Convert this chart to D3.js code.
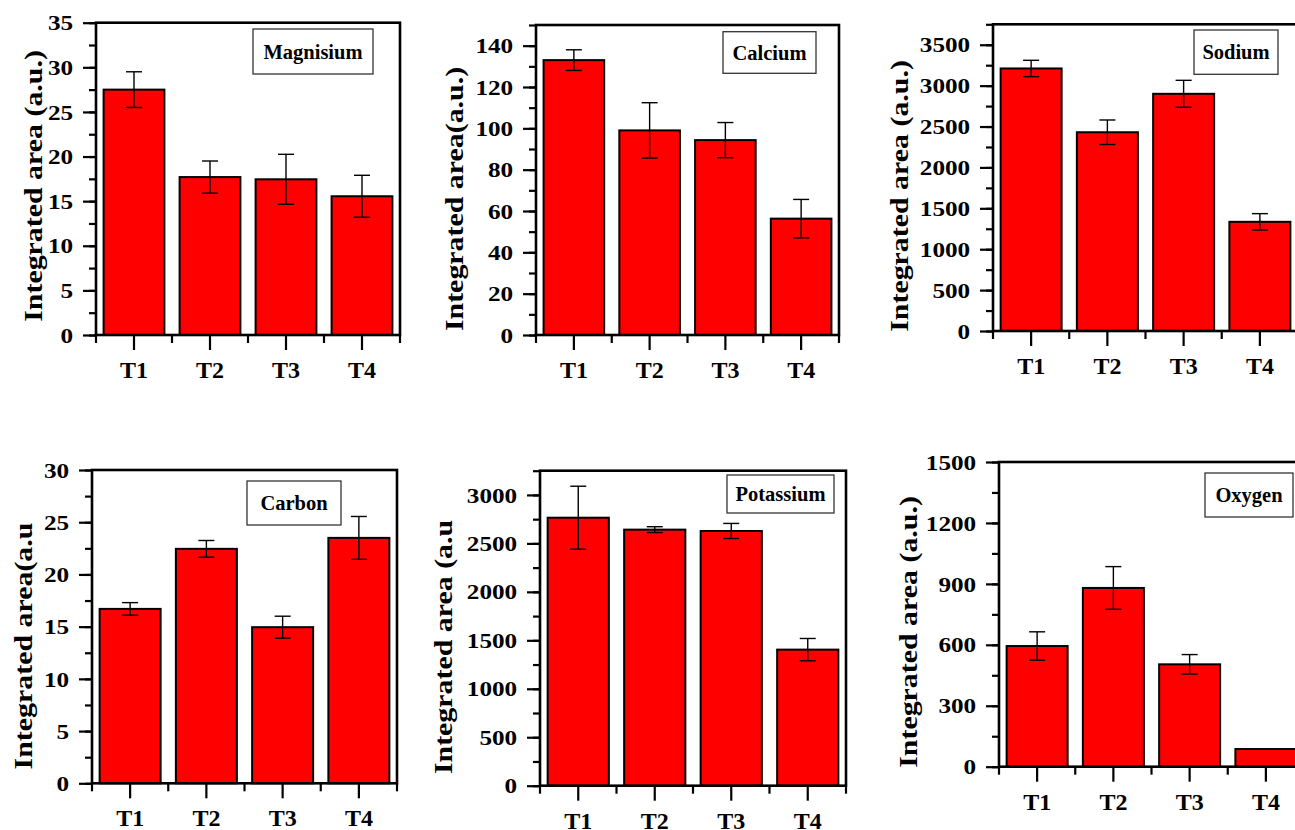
<!DOCTYPE html>
<html>
<head>
<meta charset="utf-8">
<script src="https://cdn.jsdelivr.net/npm/d3@7"></script>
<style>
  body { margin: 0; background: #fff; }
  svg { display: block; }
  text { font-family: "Liberation Serif", "Times New Roman", serif; font-weight: bold; fill: #000; }
</style>
</head>
<body>
<div id="chart"></div>
<script>
// values
const categories = ['T1', 'T2', 'T3', 'T4'];

const magnesium = [27.5, 17.7, 17.45, 15.55];
const magnesiumErr = [2.0, 1.8, 2.8, 2.35];
const calcium = [133, 99, 94.3, 56.3];
const calciumErr = [5, 13.4, 8.5, 9.3];
const sodium = [3210, 2430, 2900, 1335];
const sodiumErr = [100, 150, 165, 100];
const carbon = [16.7, 22.45, 14.95, 23.5];
const carbonErr = [0.6, 0.8, 1.05, 2.05];
const potassium = [2765, 2642, 2628, 1404];
const potassiumErr = [325, 30, 78, 115];
const oxygen = [594, 880, 504, 87];
const oxygenErr = [70, 105, 48, 0];

// y range / tick steps per panel
const yMax = [35, 150, 3750, 30, 3250, 1500];
const yMajor = [5, 20, 500, 5, 500, 300];
const yMinor = [2.5, 10, 250, 2.5, 250, 150];
const yMajorTop = [35, 140, 3500, 30, 3000, 1500];

const names = ['Magnisium', 'Calcium', 'Sodium', 'Carbon', 'Potassium', 'Oxygen'];
const titles = ['Integrated area (a.u.)', 'Integrated area(a.u.)', 'Integrated area (a.u.)',
  'Integrated area(a.u', 'Integrated area (a.u', 'Integrated area (a.u.)'];

const series = [magnesium, calcium, sodium, carbon, potassium, oxygen];
const errors = [magnesiumErr, calciumErr, sodiumErr, carbonErr, potassiumErr, oxygenErr];

// layout: frame box, title baseline x / centre y, legend box
const frames = [
  {l: 96, r: 400, t: 22.7, b: 335, tx: 42, ty: 186, box: [253, 29, 373, 74]},
  {l: 536, r: 839, t: 25, b: 335, tx: 463, ty: 199, box: [723, 31.7, 816, 73.3]},
  {l: 993, r: 1298, t: 24.3, b: 331, tx: 908, ty: 196, box: [1194, 30, 1278, 74.3]},
  {l: 92, r: 397, t: 470, b: 783.3, tx: 32, ty: 646, box: [247, 481, 341, 525]},
  {l: 540, r: 846, t: 470.7, b: 785.7, tx: 452, ty: 647, box: [727, 475, 834, 513]},
  {l: 999, r: 1304, t: 462, b: 766.7, tx: 917, ty: 632, box: [1205, 473, 1293, 517]}
];

const W = 1295, H = 830;
const svg = d3.select('#chart').append('svg').attr('width', W).attr('height', H);
svg.append('rect').attr('width', W).attr('height', H).attr('fill', '#fff');

series.forEach((vals, p) => {
  const f = frames[p];
  const g = svg.append('g').attr('class', 'panel');

  const x = d3.scaleBand().domain(categories).range([f.l, f.r])
    .paddingInner(0.2).paddingOuter(0.1);
  const y = d3.scaleLinear().domain([0, yMax[p]]).range([f.b, f.t]);

  const data = categories.map((c, i) => ({c: c, v: vals[i], e: errors[p][i]}));

  // bars
  g.selectAll('.bar').data(data).enter().append('rect')
    .attr('class', 'bar')
    .attr('x', d => x(d.c))
    .attr('width', x.bandwidth())
    .attr('y', d => y(d.v))
    .attr('height', d => y(0) - y(d.v))
    .attr('fill', '#ff0000')
    .attr('stroke', '#000')
    .attr('stroke-width', 2);

  // error bars
  const eb = g.selectAll('.err').data(data.filter(d => d.e > 0)).enter().append('g').attr('class', 'err')
    .attr('stroke', '#000').attr('stroke-width', 1.4);
  const cx = d => x(d.c) + x.bandwidth() / 2;
  eb.append('line').attr('x1', cx).attr('x2', cx)
    .attr('y1', d => y(d.v + d.e)).attr('y2', d => y(d.v - d.e));
  eb.append('line').attr('x1', d => cx(d) - 8).attr('x2', d => cx(d) + 8)
    .attr('y1', d => y(d.v + d.e)).attr('y2', d => y(d.v + d.e));
  eb.append('line').attr('x1', d => cx(d) - 8).attr('x2', d => cx(d) + 8)
    .attr('y1', d => y(d.v - d.e)).attr('y2', d => y(d.v - d.e));

  // y axis: minor then major
  const minorVals = d3.range(0, yMax[p] + 1e-9, yMinor[p]);
  const majorVals = d3.range(0, yMajorTop[p] + 1e-9, yMajor[p]);
  const yMinorAxis = g.append('g').attr('transform', `translate(${f.l},0)`)
    .call(d3.axisLeft(y).tickValues(minorVals).tickSize(7).tickFormat(''));
  const yAxis = g.append('g').attr('transform', `translate(${f.l},0)`)
    .call(d3.axisLeft(y).tickValues(majorVals).tickSize(13).tickPadding(6).tickFormat(d3.format('d')));
  [yMinorAxis, yAxis].forEach(a => {
    a.select('.domain').remove();
    a.selectAll('line').attr('stroke', '#000').attr('stroke-width', 2.2);
  });
  // the original tick numerals are drawn a little wide
  yAxis.selectAll('text').style('font-size', '21px').attr('dy', '0.34em')
    .attr('transform', 'scale(1.2,1)');

  // x axis: major ticks at centres, minor ticks at category boundaries
  const xAxis = g.append('g').attr('transform', `translate(0,${f.b})`)
    .call(d3.axisBottom(x).tickSize(15).tickPadding(11));
  xAxis.select('.domain').remove();
  xAxis.selectAll('line').attr('stroke', '#000').attr('stroke-width', 2.2);
  xAxis.selectAll('text').style('font-size', '24px');
  const gap = (x.step() - x.bandwidth()) / 2;
  const bounds = categories.map(c => x(c) - gap).concat([x.range()[1]]);
  g.selectAll('.xminor').data(bounds).enter().append('line')
    .attr('x1', d => d).attr('x2', d => d)
    .attr('y1', f.b).attr('y2', f.b + 8)
    .attr('stroke', '#000').attr('stroke-width', 2.2);

  // frame
  g.append('rect')
    .attr('x', f.l).attr('y', f.t)
    .attr('width', f.r - f.l).attr('height', f.b - f.t)
    .attr('fill', 'none').attr('stroke', '#000').attr('stroke-width', 2.6);

  // legend box
  const [bx0, by0, bx1, by1] = f.box;
  g.append('rect').attr('x', bx0).attr('y', by0)
    .attr('width', bx1 - bx0).attr('height', by1 - by0)
    .attr('fill', '#fff').attr('stroke', '#333').attr('stroke-width', 1.3);
  g.append('text').attr('x', (bx0 + bx1) / 2).attr('y', (by0 + by1) / 2 + 7)
    .attr('text-anchor', 'middle').style('font-size', '20.5px').text(names[p]);

  // y title, stretched along its length like the original
  g.append('text')
    .attr('transform', `translate(${f.tx},${f.ty}) rotate(-90) scale(1.15,1)`)
    .attr('text-anchor', 'middle')
    .style('font-size', '26px')
    .text(titles[p]);
});
</script>
</body>
</html>
